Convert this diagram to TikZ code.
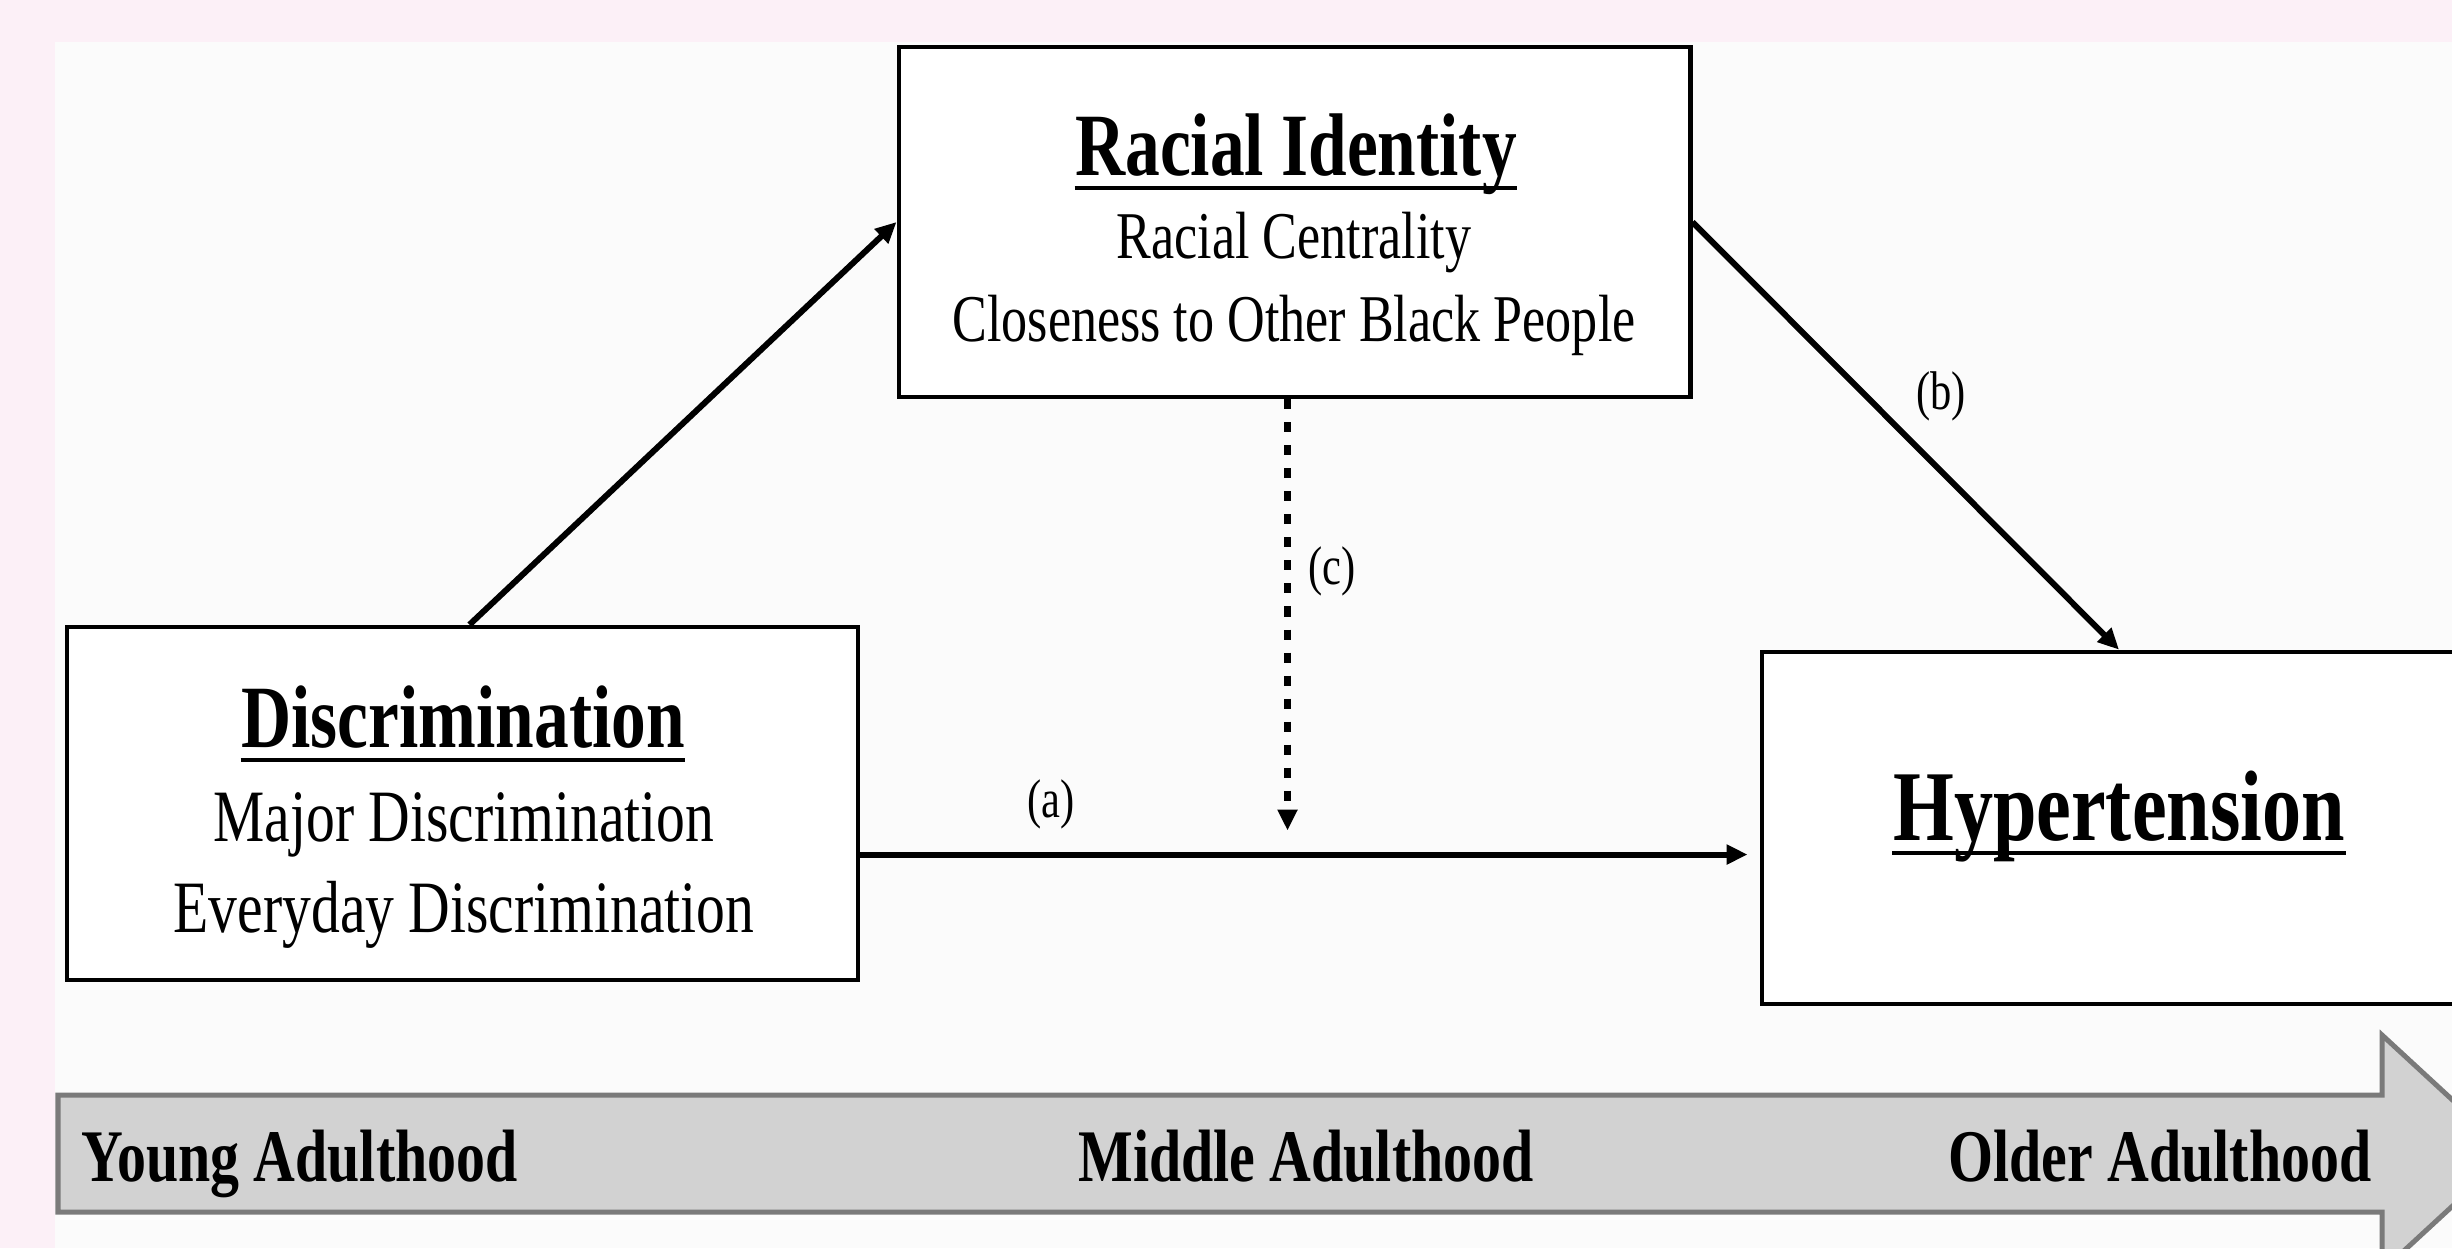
\documentclass[tikz,border=0pt]{standalone}
\usepackage{fontspec}
\setmainfont{Liberation Serif}[FakeStretch=0.78]
\usetikzlibrary{arrows.meta, positioning, calc}
\definecolor{pinkbg}{HTML}{FCF0F7}
\definecolor{paper}{HTML}{FBFBFB}
\definecolor{bandfill}{HTML}{D2D2D2}
\definecolor{bandedge}{HTML}{7A7A7A}
\tikzset{
    box/.style={
        rectangle,
        draw=black,
        fill=white,
        line width=0.045cm,
        inner sep=0pt
    },
    arrow/.style={
        -{Triangle[length=0.21cm,width=0.19cm]},
        line width=0.06cm,
        draw=black
    },
    dotarrow/.style={
        arrow,
        line width=0.07cm,
        dash pattern=on 0.1cm off 0.13cm
    },
    head/.style={inner sep=0pt, anchor=base, font=\fontsize{25.3}{30}\selectfont\bfseries},
    sub/.style={inner sep=0pt, anchor=base, font=\fontsize{19}{23}\selectfont},
    stage/.style={inner sep=0pt, anchor=base, font=\fontsize{21.1}{25}\selectfont\bfseries},
    lbl/.style={inner sep=0pt, font=\fontsize{15.5}{18}\selectfont}
}

\begin{document}
\begin{tikzpicture}[x=0.01cm, y=-0.01cm]
            \useasboundingbox (0,0) rectangle (2452,1248);
            \clip (0,0) rectangle (2452,1248);

            % Background
            \fill[pinkbg] (0,0) rectangle (2452,1248);
            \fill[paper] (55,42) rectangle (2452,1248);

            % Boxes
            \node[box, minimum width=7.91cm, minimum height=3.5cm] (racial) at (1294.5,222) {};
            \node[box, minimum width=7.91cm, minimum height=3.53cm] (disc) at (462.5,803.5) {};
            \node[box, minimum width=7.14cm, minimum height=3.52cm] (hyper) at (2119,828) {};

            % Box texts
            \node[head] (ridhead) at (1296,175) {Racial Identity};
            \node[sub] (centr) at (1294,258) {Racial Centrality};
            \node[sub] (close) at (1294,341) {Closeness to Other Black People};

            \node[head] (dischead) at (463,747) {Discrimination};
            \node[sub, font=\fontsize{21}{25}\selectfont] (major) at (464,841) {Major Discrimination};
            \node[sub, font=\fontsize{21}{25}\selectfont] (every) at (464,932) {Everyday Discrimination};

            \node[head, font=\fontsize{28.5}{33}\selectfont\bfseries] (hyphead) at (2119,840) {Hypertension};

            % Underlines
            \foreach \h in {ridhead, dischead, hyphead}
                \draw[line width=0.04cm] ([yshift=-0.13cm]\h.base west) -- ([yshift=-0.13cm]\h.base east);

            % Paths
            \draw[arrow] ([xshift=0.07cm]disc.north) -- (racial.west);
            \draw[arrow] (racial.east) -- (hyper.north);
            \coordinate (astart) at ([yshift=-0.51cm]disc.east);
            \draw[arrow] (astart) -- ([xshift=-0.12cm]astart -| hyper.west);
            \draw[dotarrow] ([xshift=-0.07cm]racial.south) -- ([xshift=-0.07cm,yshift=0.24cm]racial.south |- astart);

            \node[lbl] (la) at (1051,804) {(a)};
            \node[lbl] (lb) at (1941,396) {(b)};
            \node[lbl] (lc) at (1332,571) {(c)};

            % Life course band
            \draw[fill=bandfill, draw=bandedge, line width=0.05cm]
                (58,1095) -- (2382,1095) -- (2382,1035) -- (2510,1153)
                -- (2382,1271) -- (2382,1212) -- (58,1212) -- cycle;
            \node[stage, anchor=base west] (young) at (81,1181) {Young Adulthood};
            \node[stage] (middle) at (1306,1181) {Middle Adulthood};
            \node[stage] (older) at (2160,1181) {Older Adulthood};
\end{tikzpicture}
\end{document}
